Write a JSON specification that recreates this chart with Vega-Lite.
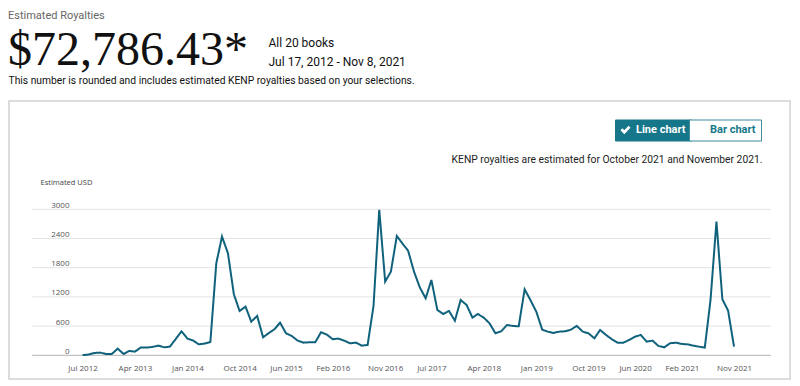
{
  "$schema": "https://vega.github.io/schema/vega-lite/v6.json",
  "width": 781,
  "height": 278,
  "autosize": {"type": "none"},
  "padding": {"left": 9, "top": 101, "right": 10, "bottom": 7},
  "background": "white",
  "config": {"view": {"stroke": "#dddddd", "strokeWidth": 2}},
  "title": {
    "text": "Estimated Royalties",
    "subtitle": "$72,786.43*",
    "anchor": "start",
    "frame": "group",
    "orient": "top",
    "font": "Roboto",
    "fontSize": 11,
    "fontWeight": "normal",
    "color": "#666666",
    "subtitleFont": "Liberation Serif",
    "subtitleFontSize": 48,
    "subtitleColor": "#111111",
    "subtitlePadding": 5.4,
    "dx": -1,
    "dy": 42.6
  },
  "data": {
    "values": [
      {"month": "2012-07-01", "usd": 5}, {"month": "2012-08-01", "usd": 14}, {"month": "2012-09-01", "usd": 48},
      {"month": "2012-10-01", "usd": 55}, {"month": "2012-11-01", "usd": 27}, {"month": "2012-12-01", "usd": 27},
      {"month": "2013-01-01", "usd": 137}, {"month": "2013-02-01", "usd": 27}, {"month": "2013-03-01", "usd": 89},
      {"month": "2013-04-01", "usd": 75}, {"month": "2013-05-01", "usd": 158}, {"month": "2013-06-01", "usd": 158},
      {"month": "2013-07-01", "usd": 171}, {"month": "2013-08-01", "usd": 199}, {"month": "2013-09-01", "usd": 164},
      {"month": "2013-10-01", "usd": 178}, {"month": "2013-11-01", "usd": 336}, {"month": "2013-12-01", "usd": 493},
      {"month": "2014-01-01", "usd": 343}, {"month": "2014-02-01", "usd": 301}, {"month": "2014-03-01", "usd": 226},
      {"month": "2014-04-01", "usd": 240}, {"month": "2014-05-01", "usd": 274}, {"month": "2014-06-01", "usd": 1890},
      {"month": "2014-07-01", "usd": 2440}, {"month": "2014-08-01", "usd": 2096}, {"month": "2014-09-01", "usd": 1254},
      {"month": "2014-10-01", "usd": 911}, {"month": "2014-11-01", "usd": 1000}, {"month": "2014-12-01", "usd": 692},
      {"month": "2015-01-01", "usd": 808}, {"month": "2015-02-01", "usd": 370}, {"month": "2015-03-01", "usd": 452},
      {"month": "2015-04-01", "usd": 534}, {"month": "2015-05-01", "usd": 671}, {"month": "2015-06-01", "usd": 452},
      {"month": "2015-07-01", "usd": 397}, {"month": "2015-08-01", "usd": 301}, {"month": "2015-09-01", "usd": 260},
      {"month": "2015-10-01", "usd": 267}, {"month": "2015-11-01", "usd": 267}, {"month": "2015-12-01", "usd": 473},
      {"month": "2016-01-01", "usd": 425}, {"month": "2016-02-01", "usd": 329}, {"month": "2016-03-01", "usd": 343},
      {"month": "2016-04-01", "usd": 301}, {"month": "2016-05-01", "usd": 247}, {"month": "2016-06-01", "usd": 260},
      {"month": "2016-07-01", "usd": 199}, {"month": "2016-08-01", "usd": 212}, {"month": "2016-09-01", "usd": 1014},
      {"month": "2016-10-01", "usd": 2990}, {"month": "2016-11-01", "usd": 1514}, {"month": "2016-12-01", "usd": 1720},
      {"month": "2017-01-01", "usd": 2452}, {"month": "2017-02-01", "usd": 2288}, {"month": "2017-03-01", "usd": 2150},
      {"month": "2017-04-01", "usd": 1719}, {"month": "2017-05-01", "usd": 1397}, {"month": "2017-06-01", "usd": 1171},
      {"month": "2017-07-01", "usd": 1548}, {"month": "2017-08-01", "usd": 932}, {"month": "2017-09-01", "usd": 849},
      {"month": "2017-10-01", "usd": 911}, {"month": "2017-11-01", "usd": 712}, {"month": "2017-12-01", "usd": 1137},
      {"month": "2018-01-01", "usd": 1034}, {"month": "2018-02-01", "usd": 774}, {"month": "2018-03-01", "usd": 849},
      {"month": "2018-04-01", "usd": 774}, {"month": "2018-05-01", "usd": 658}, {"month": "2018-06-01", "usd": 452},
      {"month": "2018-07-01", "usd": 493}, {"month": "2018-08-01", "usd": 623}, {"month": "2018-09-01", "usd": 603},
      {"month": "2018-10-01", "usd": 596}, {"month": "2018-11-01", "usd": 1356}, {"month": "2018-12-01", "usd": 1137},
      {"month": "2019-01-01", "usd": 897}, {"month": "2019-02-01", "usd": 527}, {"month": "2019-03-01", "usd": 486},
      {"month": "2019-04-01", "usd": 459}, {"month": "2019-05-01", "usd": 486}, {"month": "2019-06-01", "usd": 493},
      {"month": "2019-07-01", "usd": 527}, {"month": "2019-08-01", "usd": 603}, {"month": "2019-09-01", "usd": 486},
      {"month": "2019-10-01", "usd": 452}, {"month": "2019-11-01", "usd": 349}, {"month": "2019-12-01", "usd": 520},
      {"month": "2020-01-01", "usd": 418}, {"month": "2020-02-01", "usd": 329}, {"month": "2020-03-01", "usd": 260},
      {"month": "2020-04-01", "usd": 260}, {"month": "2020-05-01", "usd": 315}, {"month": "2020-06-01", "usd": 384},
      {"month": "2020-07-01", "usd": 418}, {"month": "2020-08-01", "usd": 281}, {"month": "2020-09-01", "usd": 301},
      {"month": "2020-10-01", "usd": 192}, {"month": "2020-11-01", "usd": 164}, {"month": "2020-12-01", "usd": 247},
      {"month": "2021-01-01", "usd": 260}, {"month": "2021-02-01", "usd": 233}, {"month": "2021-03-01", "usd": 226},
      {"month": "2021-04-01", "usd": 199}, {"month": "2021-05-01", "usd": 178}, {"month": "2021-06-01", "usd": 158},
      {"month": "2021-07-01", "usd": 1137}, {"month": "2021-08-01", "usd": 2747}, {"month": "2021-09-01", "usd": 1151},
      {"month": "2021-10-01", "usd": 918}, {"month": "2021-11-01", "usd": 178}
    ]
  },
  "resolve": {"axis": {"x": "independent", "y": "independent"}},
  "layer": [
    {
      "data": {"values": [{"usd": 0}, {"usd": 600}, {"usd": 1200}, {"usd": 1800}, {"usd": 2400}, {"usd": 3000}]},
      "mark": {"type": "rule", "strokeWidth": 1},
      "encoding": {
        "x": {
          "datum": {"year": 2011, "month": 10, "date": 11, "utc": true},
          "type": "temporal",
          "scale": {"type": "utc", "domain": [{"year": 2011, "month": 6, "date": 12, "utc": true}, {"year": 2022, "month": 8, "date": 21, "utc": true}]},
          "axis": {
            "orient": "top", "labels": false, "ticks": false, "domain": false, "grid": false,
            "title": ["All 20 books", "Jul 17, 2012 - Nov 8, 2021"],
            "titleX": 259, "titleY": -55, "titleAlign": "left", "titleBaseline": "alphabetic", "titleAngle": 0,
            "titleLineHeight": 19, "titleFont": "Roboto", "titleFontSize": 12, "titleFontWeight": "normal", "titleColor": "#111111"
          }
        },
        "x2": {"datum": {"year": 2022, "month": 5, "date": 12, "utc": true}},
        "y": {
          "field": "usd", "type": "quantitative",
          "scale": {"domain": [-487, 5225], "nice": false, "zero": false},
          "axis": {
            "orient": "right", "labels": false, "ticks": false, "domain": false, "grid": false,
            "title": "KENP royalties are estimated for October 2021 and November 2021.",
            "titleX": -28, "titleY": 58.5, "titleAlign": "right", "titleBaseline": "middle", "titleAngle": 0,
            "titleFont": "Roboto", "titleFontSize": 10.3, "titleFontWeight": "normal", "titleColor": "#222222"
          }
        },
        "color": {"condition": {"test": "datum.usd === 0", "value": "#b5b5b5"}, "value": "#e3e3e3"}
      }
    },
    {
      "mark": {"type": "line", "strokeWidth": 2},
      "encoding": {
        "x": {
          "field": "month", "type": "temporal",
          "scale": {"type": "utc", "domain": [{"year": 2011, "month": 6, "date": 12, "utc": true}, {"year": 2022, "month": 8, "date": 21, "utc": true}]},
          "axis": {
            "orient": "bottom",
            "values": [
              {"year": 2012, "month": 7, "date": 1, "utc": true}, {"year": 2013, "month": 4, "date": 1, "utc": true},
              {"year": 2014, "month": 1, "date": 1, "utc": true}, {"year": 2014, "month": 10, "date": 1, "utc": true},
              {"year": 2015, "month": 6, "date": 1, "utc": true}, {"year": 2016, "month": 2, "date": 1, "utc": true},
              {"year": 2016, "month": 11, "date": 1, "utc": true}, {"year": 2017, "month": 7, "date": 1, "utc": true},
              {"year": 2018, "month": 4, "date": 1, "utc": true}, {"year": 2019, "month": 1, "date": 1, "utc": true},
              {"year": 2019, "month": 10, "date": 1, "utc": true}, {"year": 2020, "month": 6, "date": 1, "utc": true},
              {"year": 2021, "month": 2, "date": 1, "utc": true}, {"year": 2021, "month": 11, "date": 1, "utc": true}
            ],
            "format": "%b %Y",
            "labelFont": "Open Sans", "labelFontSize": 8, "labelColor": "#555555",
            "labelPadding": -11, "labelBaseline": "middle", "labelFlush": false, "labelOverlap": false,
            "ticks": false, "tickSize": 0, "domain": false, "grid": false,
            "title": "This number is rounded and includes estimated KENP royalties based on your selections.",
            "titleX": -1, "titleY": -299, "titleAlign": "left", "titleBaseline": "middle", "titleAngle": 0,
            "titleFont": "Roboto", "titleFontSize": 10.3, "titleFontWeight": "normal", "titleColor": "#111111"
          }
        },
        "y": {
          "field": "usd", "type": "quantitative",
          "scale": {"domain": [-487, 5225], "nice": false, "zero": false},
          "axis": {
            "orient": "left",
            "values": [0, 600, 1200, 1800, 2400, 3000],
            "format": "d",
            "labelFont": "Open Sans", "labelFontSize": 8, "labelColor": "#555555",
            "labelPadding": -60, "labelAlign": "right", "labelBaseline": "alphabetic", "labelOffset": -2,
            "ticks": false, "tickSize": 0, "domain": false, "grid": false,
            "title": "Estimated USD",
            "titleX": 31, "titleY": 81.5, "titleAlign": "left", "titleBaseline": "middle", "titleAngle": 0,
            "titleFont": "Open Sans", "titleFontSize": 7.5, "titleFontWeight": "normal", "titleColor": "#444444"
          }
        },
        "color": {
          "datum": "Line chart", "type": "nominal",
          "scale": {"range": ["#10627c"]},
          "legend": {
            "orient": "none", "legendX": 606, "legendY": 18.5, "title": null,
            "padding": 5, "fillColor": "#16778a", "strokeColor": "#16778a",
            "symbolType": "M -1 0.05 L -0.62 -0.35 L -0.25 0.05 L 0.62 -0.85 L 1 -0.45 L -0.25 0.85 Z",
            "symbolSize": 100, "symbolStrokeWidth": 0,
            "symbolFillColor": "white",
            "labelFont": "Roboto", "labelFontSize": 11, "labelFontWeight": "bold", "labelColor": "white", "labelOffset": 5,
            "encode": {"symbols": {"update": {"fill": {"value": "white"}, "fillOpacity": {"value": 1}, "strokeWidth": {"value": 0}, "opacity": {"value": 1}}}}
          }
        },
        "strokeDash": {
          "datum": "Bar chart", "type": "nominal",
          "scale": {"range": [[1, 0]]},
          "legend": {
            "orient": "none", "legendX": 680, "legendY": 18.5, "title": null,
            "padding": 5, "fillColor": "white", "strokeColor": "#3f8c9c",
            "symbolSize": 64, "symbolOpacity": 0, "symbolStrokeWidth": 0,
            "labelFont": "Roboto", "labelFontSize": 11, "labelFontWeight": "bold", "labelColor": "#16778a", "labelOffset": 5,
            "encode": {"symbols": {"update": {"opacity": {"value": 0}}}}
          }
        }
      }
    }
  ]
}
